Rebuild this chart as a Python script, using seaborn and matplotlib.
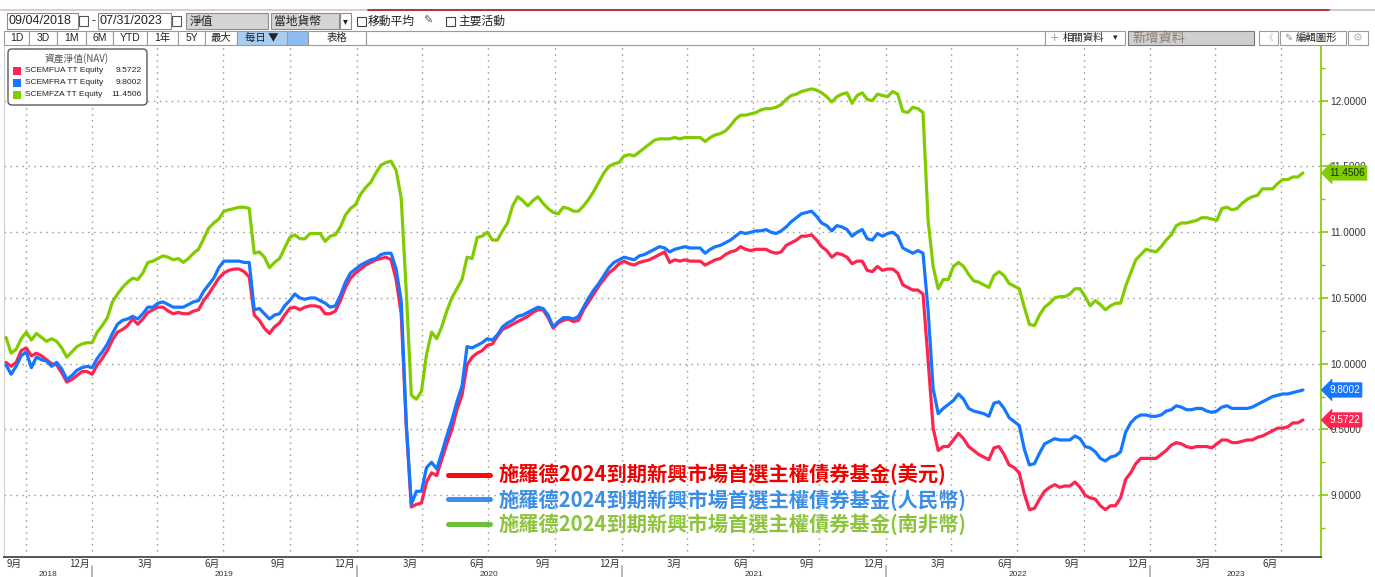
import matplotlib
matplotlib.use("Agg")
import numpy as np
import pandas as pd
import matplotlib.pyplot as plt
import matplotlib.patches as mpatches
from matplotlib.lines import Line2D
from matplotlib.transforms import blended_transform_factory
from matplotlib import font_manager
import seaborn as sns

# ---------------- data (weekly NAV) ----------------
dates = pd.date_range("2018-09-04", "2023-07-31", periods=257)

nav_usd = [
    10.01, 9.98, 10.01, 10.10, 10.12, 10.06, 10.08, 10.06, 10.03, 10.00,
    9.99, 9.93, 9.86, 9.88, 9.91, 9.94, 9.94, 9.92, 9.99, 10.04,
    10.10, 10.18, 10.24, 10.26, 10.29, 10.34, 10.30, 10.34, 10.39, 10.41,
    10.43, 10.43, 10.40, 10.38, 10.39, 10.38, 10.38, 10.40, 10.41, 10.48,
    10.53, 10.59, 10.65, 10.69, 10.71, 10.72, 10.72, 10.70, 10.66, 10.37,
    10.33, 10.27, 10.23, 10.28, 10.31, 10.37, 10.42, 10.43, 10.41, 10.43,
    10.44, 10.44, 10.43, 10.38,
    10.38, 10.40, 10.48, 10.58, 10.65, 10.69,
    10.72, 10.75, 10.77, 10.79, 10.80, 10.81, 10.79, 10.64, 10.38, 9.53,
    8.91, 8.93, 8.94, 9.10, 9.17, 9.15, 9.27, 9.39, 9.50, 9.65,
    9.76, 9.99, 10.05, 10.08, 10.10, 10.14, 10.15, 10.21, 10.26, 10.28,
    10.30, 10.32, 10.34, 10.36, 10.39, 10.41, 10.41, 10.35, 10.27, 10.31,
    10.33, 10.34, 10.32, 10.33, 10.41, 10.47, 10.53, 10.59, 10.64, 10.69,
    10.72, 10.76, 10.78, 10.76, 10.75, 10.77, 10.78, 10.79, 10.81, 10.83,
    10.85, 10.77, 10.79, 10.78, 10.79, 10.78, 10.78, 10.78, 10.75, 10.77,
    10.79, 10.80, 10.83, 10.85, 10.86, 10.89, 10.87, 10.86, 10.87, 10.87,
    10.87, 10.85, 10.84, 10.85, 10.90, 10.92, 10.94, 10.97, 10.97, 10.98,
    10.94, 10.89, 10.86, 10.81, 10.84, 10.83, 10.81, 10.76, 10.78, 10.78,
    10.71, 10.70, 10.74, 10.71, 10.72, 10.72, 10.69, 10.60, 10.58, 10.56,
    10.56, 10.53, 10.03, 9.51, 9.34, 9.37, 9.37, 9.42, 9.47, 9.43,
    9.37, 9.34, 9.31, 9.29, 9.27,
    9.36, 9.37, 9.31, 9.23, 9.21,
    9.17, 9.01, 8.89, 8.90, 8.97, 9.03, 9.06, 9.08, 9.06, 9.07,
    9.07, 9.10, 9.06, 9.00, 8.98, 8.97, 8.92, 8.89, 8.92, 8.92,
    8.98, 9.12, 9.17, 9.24, 9.28, 9.28, 9.28, 9.28, 9.31, 9.34,
    9.38, 9.40, 9.39, 9.37, 9.36, 9.37, 9.37, 9.37, 9.36, 9.39,
    9.42, 9.42, 9.40, 9.40, 9.41, 9.42, 9.42, 9.44, 9.45, 9.47,
    9.49, 9.51, 9.51, 9.52, 9.55, 9.55, 9.5722,
]

nav_cny = [
    9.99, 9.92, 9.98, 10.06, 10.09, 9.97, 10.05, 10.03, 10.02, 9.98,
    10.01, 9.96, 9.88, 9.91, 9.95, 9.97, 9.98, 9.97, 10.04, 10.09,
    10.15, 10.23, 10.30, 10.33, 10.34, 10.36, 10.34, 10.38, 10.43, 10.43,
    10.46, 10.47, 10.45, 10.43, 10.43, 10.43, 10.45, 10.47, 10.48, 10.55,
    10.60, 10.65, 10.73, 10.78, 10.78, 10.78, 10.78, 10.77, 10.77, 10.41,
    10.42, 10.38, 10.34, 10.37, 10.38, 10.44, 10.48, 10.53, 10.50, 10.49,
    10.50, 10.50, 10.48, 10.46,
    10.43, 10.44, 10.52, 10.62, 10.69, 10.72,
    10.75, 10.77, 10.79, 10.80, 10.83, 10.84, 10.84, 10.72, 10.48, 9.55,
    8.93, 9.03, 9.03, 9.21, 9.25, 9.20, 9.32, 9.45, 9.57, 9.71,
    9.83, 10.13, 10.12, 10.14, 10.16, 10.19, 10.18, 10.22, 10.28, 10.31,
    10.33, 10.36, 10.37, 10.39, 10.41, 10.43, 10.42, 10.37, 10.28, 10.32,
    10.35, 10.35, 10.34, 10.36, 10.43, 10.50, 10.56, 10.61, 10.67, 10.73,
    10.77, 10.79, 10.81, 10.80, 10.79, 10.82, 10.83, 10.85, 10.87, 10.89,
    10.88, 10.85, 10.87, 10.88, 10.89, 10.88, 10.88, 10.88, 10.84, 10.87,
    10.89, 10.90, 10.92, 10.94, 10.97, 11.00, 10.99, 11.00, 11.01, 11.01,
    11.02, 11.00, 10.99, 11.01, 11.04, 11.08, 11.11, 11.14, 11.15, 11.16,
    11.12, 11.07, 11.05, 11.01, 11.05, 11.04, 11.02, 10.97, 11.00, 11.02,
    10.95, 10.94, 10.99, 10.97, 10.99, 11.00, 10.97, 10.88, 10.86, 10.84,
    10.86, 10.84, 10.41, 9.81, 9.62, 9.66, 9.69, 9.72, 9.77, 9.73,
    9.66, 9.64, 9.63, 9.62, 9.60,
    9.70, 9.71, 9.66, 9.59, 9.56,
    9.53, 9.35, 9.23, 9.24, 9.32, 9.39, 9.41, 9.43, 9.42, 9.42,
    9.42, 9.45, 9.43, 9.37, 9.36, 9.33, 9.28, 9.26, 9.29, 9.30,
    9.33, 9.48, 9.55, 9.59, 9.61, 9.61, 9.60, 9.60, 9.61, 9.64,
    9.65, 9.68, 9.67, 9.65, 9.65, 9.66, 9.66, 9.64, 9.63, 9.64,
    9.67, 9.68, 9.66, 9.66, 9.66, 9.66, 9.67, 9.69, 9.71, 9.73,
    9.75, 9.76, 9.77, 9.77, 9.78, 9.79, 9.8002,
]

nav_zar = [
    10.20, 10.08, 10.11, 10.19, 10.24, 10.18, 10.23, 10.20, 10.17, 10.19,
    10.17, 10.12, 10.05, 10.09, 10.13, 10.15, 10.16, 10.16, 10.24, 10.29,
    10.35, 10.47, 10.53, 10.58, 10.62, 10.65, 10.64, 10.69, 10.77, 10.78,
    10.80, 10.82, 10.81, 10.79, 10.80, 10.77, 10.80, 10.84, 10.87, 10.95,
    11.03, 11.07, 11.10, 11.16, 11.17, 11.18, 11.19, 11.19, 11.18, 10.84,
    10.85, 10.81, 10.73, 10.77, 10.80, 10.88, 10.96, 10.98, 10.95, 10.95,
    10.99, 10.99, 10.99, 10.93,
    10.97, 10.98, 11.04, 11.13, 11.18, 11.21,
    11.29, 11.34, 11.38, 11.45, 11.51, 11.53, 11.54, 11.47, 11.26, 10.55,
    9.76, 9.73, 9.79, 10.07, 10.24, 10.19, 10.28, 10.40, 10.50, 10.57,
    10.64, 10.81, 10.80, 10.96, 10.97, 11.00, 10.94, 10.94, 11.01, 11.07,
    11.20, 11.27, 11.24, 11.20, 11.24, 11.27, 11.22, 11.18, 11.15, 11.14,
    11.19, 11.18, 11.16, 11.16, 11.20, 11.25, 11.31, 11.38, 11.45, 11.50,
    11.52, 11.53, 11.58, 11.59, 11.58, 11.61, 11.64, 11.67, 11.70, 11.71,
    11.71, 11.71, 11.72, 11.71, 11.72, 11.72, 11.72, 11.72, 11.69, 11.72,
    11.74, 11.75, 11.77, 11.81, 11.86, 11.89, 11.89, 11.90, 11.91, 11.93,
    11.94, 11.94, 11.95, 11.97, 12.01, 12.04, 12.05, 12.07, 12.08, 12.09,
    12.08, 12.06, 12.03, 11.99, 12.03, 12.05, 12.06, 11.98, 12.04, 12.06,
    12.01, 12.00, 12.05, 12.04, 12.03, 12.07, 12.05, 11.92, 11.91, 11.95,
    11.94, 11.91, 11.09, 10.74, 10.57, 10.64, 10.64, 10.74, 10.77, 10.74,
    10.68, 10.63, 10.62, 10.60, 10.58,
    10.67, 10.70, 10.67, 10.61, 10.59,
    10.57, 10.43, 10.30, 10.29, 10.37, 10.43, 10.46, 10.50, 10.51, 10.51,
    10.53, 10.57, 10.57, 10.51, 10.44, 10.48, 10.45, 10.41, 10.44, 10.46,
    10.46, 10.59, 10.69, 10.79, 10.83, 10.87, 10.86, 10.85, 10.89, 10.94,
    10.98, 11.05, 11.07, 11.07, 11.08, 11.09, 11.11, 11.11, 11.10, 11.09,
    11.18, 11.19, 11.17, 11.18, 11.22, 11.25, 11.27, 11.28, 11.33, 11.33,
    11.33, 11.37, 11.40, 11.40, 11.42, 11.42, 11.4506,
]

tickers = ["SCEMFUA TT Equity", "SCEMFRA TT Equity", "SCEMFZA TT Equity"]
fund_names = [
    "施羅德2024到期新興市場首選主權債券基金(美元)",
    "施羅德2024到期新興市場首選主權債券基金(人民幣)",
    "施羅德2024到期新興市場首選主權債券基金(南非幣)",
]
y_ticks = [9.0, 9.5, 10.0, 10.5, 11.0, 11.5, 12.0]

# ---------------- styling ----------------
line_colors = ["#ff2450", "#1577ff", "#80cc00"]
legend_line_colors = ["#ff0a0a", "#3b8ef2", "#6cbf3a"]
legend_text_colors = ["#f20000", "#3a8ee6", "#8cc43c"]
tag_text_colors = ["white", "white", "#1c2a00"]

sns.set_style("white")
CJK = ["Noto Sans CJK TC", "DejaVu Sans"]
plt.rcParams["font.family"] = CJK
avail = {f.name for f in font_manager.fontManager.ttflist}
LAT = ["Liberation Sans Narrow"] if "Liberation Sans Narrow" in avail else ["Liberation Sans"]
LAT = LAT + ["Noto Sans CJK TC", "DejaVu Sans"]

W, H = 1375, 577
fig = plt.figure(figsize=(W / 100, H / 100), dpi=100)
fig.patch.set_facecolor("white")

AX_L, AX_R, AX_T, AX_B = 4, 1321, 46, 557
ax = fig.add_axes([AX_L / W, 1 - AX_B / H, (AX_R - AX_L) / W, (AX_B - AX_T) / H])

df = pd.concat([
    pd.DataFrame({"date": dates, "nav": v, "series": t})
    for v, t in zip([nav_usd, nav_cny, nav_zar], tickers)
])
sns.lineplot(data=df, x="date", y="nav", hue="series", hue_order=tickers,
             palette=line_colors, linewidth=2.3, legend=False, ax=ax, zorder=3)

x0 = pd.Timestamp("2018-09-04") - pd.Timedelta(days=2.8)
x1 = pd.Timestamp("2023-07-31") + pd.Timedelta(days=24.9)
ax.set_xlim(x0, x1)
ax.set_ylim(8.530, 12.416)
ax.set_xlabel("")
ax.set_ylabel("")

# y axis on right
green_axis = "#7fcc00"
ax.yaxis.tick_right()
ax.set_yticks(y_ticks)
ax.set_yticks(np.arange(8.75, 12.3, 0.5), minor=True)
ax.set_yticklabels([f"{v:.4f}" for v in y_ticks], fontsize=7.2, color="#333333",
                   family=LAT)
ax.tick_params(axis="y", which="major", length=5, width=1.2, color=green_axis, pad=2)
ax.tick_params(axis="y", which="minor", length=3, width=1.0, color=green_axis)

# x axis: quarter gridlines, monthly minor ticks
quarters = pd.date_range("2018-10-01", "2023-07-01", freq="QS")
months = pd.date_range("2018-10-01", "2023-08-01", freq="MS")
ax.set_xticks(quarters)
ax.set_xticks(months, minor=True)
ax.tick_params(axis="x", which="both", length=4, width=1.0, color="#555555",
               labelbottom=False, direction="out")

grid_kw = dict(color="#9c9c9c", linewidth=1.0, linestyle=(0, (1.1, 3.2)), zorder=1)
ax.grid(False)
for q in quarters:
    ax.axvline(q, **grid_kw)
for yv in y_ticks:
    ax.axhline(yv, **grid_kw)

ax.spines["top"].set_visible(False)
ax.spines["right"].set_color(green_axis)
ax.spines["right"].set_linewidth(1.2)
ax.spines["bottom"].set_color("#555555")
ax.spines["bottom"].set_linewidth(1.4)
ax.spines["left"].set_color("#d0d0d0")
ax.spines["left"].set_linewidth(0.8)

# month labels (centred in the month)
xtr = ax.get_xaxis_transform()
for m in pd.date_range("2018-09-01", "2023-06-01", freq="3MS"):
    mid = m + pd.Timedelta(days=14)
    ax.text(mid, -0.013, f"{m.month}月", transform=xtr, ha="center", va="center",
            fontsize=7, color="#333333", clip_on=False)
# year separators + labels
years = [2018, 2019, 2020, 2021, 2022, 2023]
for yr in years[1:]:
    ax.plot([pd.Timestamp(f"{yr}-01-01")] * 2, [-0.018, -0.06], transform=xtr,
            color="#b0b0b0", lw=1.3, clip_on=False)
for yr in years:
    a = max(pd.Timestamp(f"{yr}-01-01"), x0)
    b = min(pd.Timestamp(f"{yr + 1}-01-01"), x1)
    ax.text(a + (b - a) / 2, -0.034, str(yr), transform=xtr, ha="center", va="center",
            fontsize=6, color="#333333", family=LAT, clip_on=False)

# last value tags on the right axis
btr = blended_transform_factory(ax.transAxes, ax.transData)
for v, c, tc in zip([nav_usd, nav_cny, nav_zar], line_colors, tag_text_colors):
    ax.text(1 + 8 / (AX_R - AX_L), v[-1], f"{v[-1]:.4f}", transform=btr,
            ha="left", va="center", fontsize=7.2, color=tc, family=LAT, zorder=6,
            clip_on=False,
            bbox=dict(boxstyle="larrow,pad=0.22", fc=c, ec=c, lw=0.5))

# big legend
handles = [Line2D([0], [0], color=c, lw=3.6) for c in legend_line_colors]
leg = ax.legend(handles, fund_names, loc="upper left",
                bbox_to_anchor=(448 / W, 1 - 464 / H), bbox_transform=fig.transFigure,
                frameon=False, handlelength=2.05, handletextpad=0.45, borderpad=0,
                borderaxespad=0, labelspacing=0.14,
                prop=dict(family="Noto Sans CJK TC", weight="bold", size=14.6))
for t, c in zip(leg.get_texts(), legend_text_colors):
    t.set_color(c)

# ---------------- overlay: toolbar and small legend box ----------------
ov = fig.add_axes([0, 0, 1, 1], zorder=20)
ov.set_xlim(0, W)
ov.set_ylim(H, 0)
ov.axis("off")
ov.patch.set_alpha(0)

def box(xa, ya, xb, yb, fc="white", ec="#8c8c8c", lw=0.8):
    ov.add_patch(mpatches.Rectangle((xa, ya), xb - xa, yb - ya, fc=fc, ec=ec, lw=lw))

def txt(x, y, s, size=8, color="#222222", ha="left", family=CJK, **kw):
    ov.text(x, y, s, fontsize=size, color=color, ha=ha, va="center", family=family, **kw)

# top line
ov.plot([0, 368], [10, 10], color="#d8c2c4", lw=1.2)
ov.plot([368, 1330], [10, 10], color="#b3202a", lw=1.3)
ov.plot([1330, W], [10, 10], color="#c0c0c0", lw=1.2)

# row 1
r1a, r1b = 13, 29
ym1 = (r1a + r1b) / 2
box(7, r1a, 78, r1b)
txt(9, ym1, "09/04/2018", size=9, family=LAT)
box(79, r1a + 3, 88, r1b - 3, ec="#555555")
txt(92, ym1, "-", size=9, family=LAT)
box(98, r1a, 171, r1b)
txt(100, ym1, "07/31/2023", size=9, family=LAT)
box(172, r1a + 3, 181, r1b - 3, ec="#555555")
box(186, r1a, 268, r1b, fc="#d4d4d4")
txt(190, ym1, "淨值", size=8.5)
box(271, r1a, 339, r1b, fc="#d4d4d4")
txt(274, ym1, "當地貨幣", size=8.5)
box(340, r1a, 351, r1b)
txt(345.5, ym1, "▾", size=7, ha="center", family=["DejaVu Sans"])
box(357, 17, 366, 26, ec="#444444")
txt(368, ym1, "移動平均", size=8.5)
txt(423, ym1, "✎", size=8, color="#555555", family=["DejaVu Sans"])
box(446, 17, 455, 26, ec="#444444")
txt(458, ym1, "主要活動", size=8.5)

# row 2
r2a, r2b = 31, 45
ym2 = (r2a + r2b) / 2
edges = [4, 29, 57, 86, 113, 147, 178, 205, 237, 287, 308, 366]
labels = ["1D", "3D", "1M", "6M", "YTD", "1年", "5Y", "最大", "每日 ▼", "", "表格"]
for i, lab in enumerate(labels):
    fc = "white"
    if i == 8:
        fc = "#a9cdf2"
    if i == 9:
        fc = "#8fbcf0"
    box(edges[i], r2a, edges[i + 1], r2b, fc=fc, ec="#9a9a9a")
    if lab:
        txt((edges[i] + edges[i + 1]) / 2, ym2, lab, size=7.5, ha="center",
            family=LAT if lab.isascii() else CJK)
box(366, r2a, 1045, r2b, ec="#9a9a9a")
box(1045, r2a, 1125, r2b, ec="#9a9a9a")
txt(1050, ym2, "+", size=8, color="#999999", family=["DejaVu Sans"])
txt(1063, ym2, "相關資料", size=7.5)
txt(1113, ym2, "▾", size=6.5, family=["DejaVu Sans"])
box(1128, r2a, 1254, r2b, fc="#cfcfcf", ec="#777777")
txt(1132, ym2, "新增資料", size=9.5, color="#8a7c6e")
box(1259, r2a, 1278, r2b, ec="#9a9a9a")
txt(1268.5, ym2, "《", size=7, color="#bbbbbb", ha="center")
box(1280, r2a, 1346, r2b, ec="#9a9a9a")
txt(1284, ym2, "✎", size=7, color="#888888", family=["DejaVu Sans"])
txt(1296, ym2, "編輯圖形", size=7.5)
box(1348, r2a, 1368, r2b, ec="#9a9a9a")
txt(1358, ym2, "⚙", size=8, color="#bbbbbb", ha="center", family=["DejaVu Sans"])

# small legend box (top-left)
ov.add_patch(mpatches.FancyBboxPatch((8, 49), 139, 56,
             boxstyle="round,pad=0,rounding_size=4", fc="white", ec="#5a5a5a", lw=1.0))
txt(77, 59, "資產淨值(NAV)", size=7, color="#555555", ha="center")
for i, (t, v, c) in enumerate(zip(tickers, [nav_usd, nav_cny, nav_zar], line_colors)):
    yy = 71 + i * 12
    ov.add_patch(mpatches.Rectangle((13, yy - 4), 8, 8, fc=c, ec="none"))
    txt(25, yy, t, size=6.0, color="#222222", family=LAT)
    txt(142, yy, f"{v[-1]:.4f}", size=6.1, color="#222222", ha="right", family=LAT)

fig.savefig("out.png", dpi=100)
